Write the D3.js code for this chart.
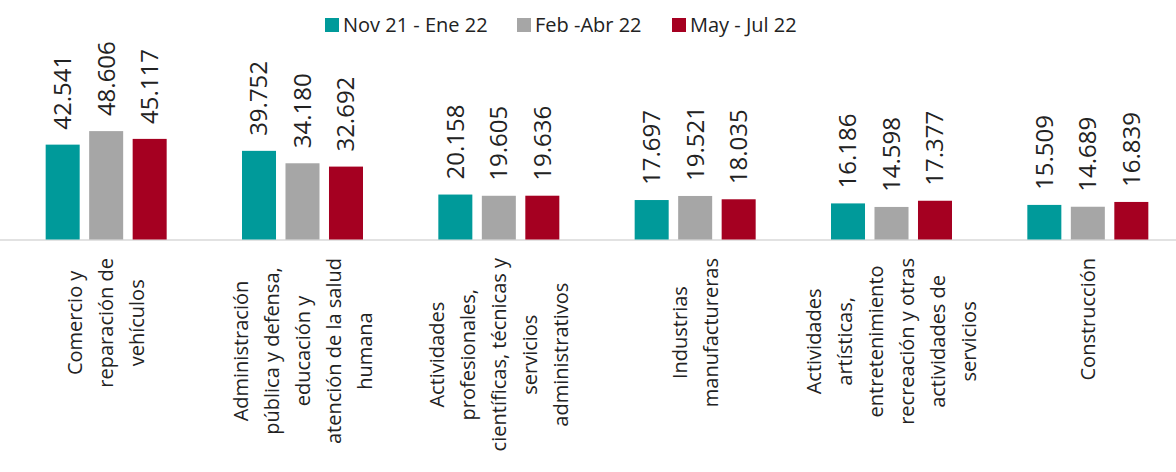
<!doctype html>
<html lang="es">
<head>
<meta charset="utf-8">
<title>Ocupados por rama</title>
<style>
  html, body { margin: 0; padding: 0; background: #fff; }
  svg text { font-family: "Open Sans", "Noto Sans", sans-serif; fill: #222; }
</style>
</head>
<body>
<svg id="chart"></svg>
<script src="https://cdn.jsdelivr.net/npm/d3@7"></script>
<script>
// categories (one array of lines per label)
var categories = [
  ["Comercio y", "reparación de", "vehículos"],
  ["Administración", "pública y defensa,", "educación y", "atención de la salud", "humana"],
  ["Actividades", "profesionales,", "científicas, técnicas y", "servicios", "administrativos"],
  ["Industrias", "manufactureras"],
  ["Actividades", "artísticas,", "entretenimiento", "recreación y otras", "actividades de", "servicios"],
  ["Construcción"]
];
var seriesNames = ["Nov 21 - Ene 22", "Feb -Abr 22", "May - Jul 22"];
var novEne = [42541, 39752, 20158, 17697, 16186, 15509];
var febAbr = [48606, 34180, 19605, 19521, 14598, 14689];
var mayJul = [45117, 32692, 19636, 18035, 17377, 16839];
var colors = ["#009a9a", "#a6a6a6", "#a50021"];

var width = 1176, height = 472;
var baseline = 239.5;

var svg = d3.select("#chart").attr("width", width).attr("height", height);

var es = d3.formatLocale({decimal: ",", thousands: ".", grouping: [3], currency: ["$", ""]});
var fmt = es.format(",d");

var seriesData = [novEne, febAbr, mayJul];
var rows = categories.map(function(c, i) {
  return {key: i, lines: c, values: seriesData.map(function(s) { return s[i]; })};
});

// scales
var x0 = d3.scaleBand().domain(d3.range(categories.length)).range([8, 1186]);
var x1 = d3.scaleBand().domain(d3.range(seriesNames.length))
  .range([x0.bandwidth() / 2 - 60.5, x0.bandwidth() / 2 + 60.5]).paddingInner(0.218);
var y = d3.scaleLinear().domain([0, 50000]).range([baseline, baseline - 111.5]);

// axis line
svg.append("line")
  .attr("x1", 0).attr("x2", width)
  .attr("y1", 240).attr("y2", 240)
  .attr("stroke", "#d9d9d9").attr("stroke-width", 1.5);

var groups = svg.selectAll("g.grp")
  .data(rows)
  .enter().append("g")
  .attr("class", "grp")
  .attr("transform", function(d) { return "translate(" + x0(d.key) + ",0)"; });

groups.selectAll("rect")
  .data(function(d) { return d.values; })
  .enter().append("rect")
  .attr("x", function(d, i) { return x1(i); })
  .attr("width", x1.bandwidth())
  .attr("y", function(d) { return y(d); })
  .attr("height", function(d) { return baseline - y(d); })
  .attr("fill", function(d, i) { return colors[i]; });

// value labels, rotated
groups.selectAll("text.val")
  .data(function(d) { return d.values; })
  .enter().append("text")
  .attr("class", "val")
  .attr("transform", function(d, i) {
    return "translate(" + (x1(i) + x1.bandwidth() / 2) + "," + (y(d) - 15) + ") rotate(-90)";
  })
  .attr("dy", "0.35em")
  .style("font-size", "24px")
  .text(function(d) { return fmt(d); });

// category labels, rotated and centred on the group
var lineStep = 31;
var labelTop = 258;
categories.forEach(function(lines, i) {
  var cx = x0(i) + x0.bandwidth() / 2;
  var g = svg.append("g");
  var t = g.append("text").attr("text-anchor", "middle").style("font-size", "20px");
  var n = lines.length;
  lines.forEach(function(line, j) {
    t.append("tspan")
      .attr("x", 0)
      .attr("y", (j - (n - 1) / 2) * lineStep)
      .attr("dy", "0.35em")
      .text(line);
  });
  var maxLen = 0;
  t.selectAll("tspan").each(function() {
    maxLen = Math.max(maxLen, this.getComputedTextLength());
  });
  g.attr("transform", "translate(" + cx + "," + (labelTop + maxLen / 2) + ") rotate(-90)");
});

// legend
var legendX = [325, 517, 672];
var legend = svg.selectAll("g.leg")
  .data(seriesNames)
  .enter().append("g")
  .attr("class", "leg")
  .attr("transform", function(d, i) { return "translate(" + legendX[i] + ",18)"; });
legend.append("rect")
  .attr("width", 14).attr("height", 14)
  .attr("fill", function(d, i) { return colors[i]; });
legend.append("text")
  .attr("x", 18).attr("y", 7).attr("dy", "0.35em")
  .style("font-size", "20px")
  .text(function(d) { return d; });
</script>
</body>
</html>
